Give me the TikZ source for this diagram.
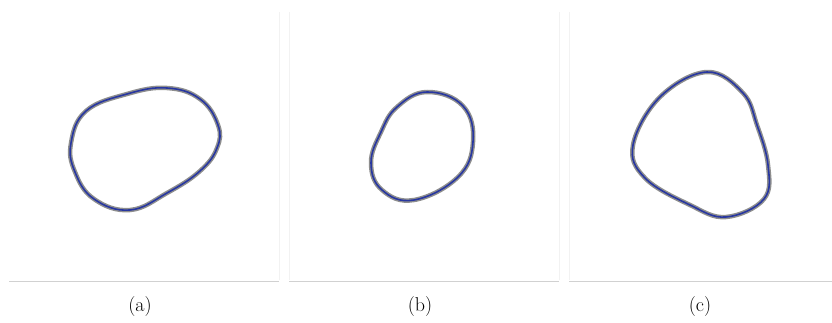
\documentclass[tikz,border=0pt]{standalone}
\usetikzlibrary{calc}
\definecolor{blobblue}{RGB}{40,55,160}
\definecolor{halo}{RGB}{50,50,50}
\tikzset{
  halo/.style={draw=halo, line width=4.5pt, opacity=0.55, line join=round},
  blob/.style={draw=blobblue, line width=1.6pt, line join=round},
  baseline/.style={draw=black!18, line width=0.8pt},
  frame/.style={draw=black!5, line width=0.6pt},
  caption/.style={font=\fontsize{20}{24}\selectfont, inner sep=0pt}
}
\begin{document}
\begin{tikzpicture}[x=1pt,y=-1pt]
\useasboundingbox (0,0) rectangle (832,323);
% faint panel frames
\draw[frame] (279,12) -- (279,280);
\draw[frame] (289,12) -- (289,280);
\draw[frame] (559,12) -- (559,280);
\draw[frame] (569,12) -- (569,280);
% baselines
\coordinate (la1) at (9,281); \coordinate (la2) at (279,281);
\coordinate (lb1) at (289,281); \coordinate (lb2) at (559,281);
\coordinate (lc1) at (569,281); \coordinate (lc2) at (832,281);
\draw[baseline] (la1) -- (la2);
\draw[baseline] (lb1) -- (lb2);
\draw[baseline] (lc1) -- (lc2);
\foreach \s in {halo,blob}{
% blob a
\draw[\s] plot[smooth cycle, tension=0.7] coordinates {
 (71,143) (86,111) (127,94) (167,88) (200,99) (218,125) (217,148)
 (200,171) (167,193) (130,210) (94,199) (75,172)};
% blob b
\draw[\s] plot[smooth cycle, tension=0.7] coordinates {
 (427,92) (463,106) (473,142) (458,177) (414,200) (382,190)
 (371,163) (381,132) (397,107)};
% blob c
\draw[\s] plot[smooth cycle, tension=0.65] coordinates {
 (707,72) (743,93) (757,125) (768,165) (764,199) (726,217)
 (690,205) (645,178) (633,145) (660,97)};
}
% captions
\node[caption] (ca) at (140,307) {(a)};
\node[caption] (cb) at (420,307) {(b)};
\node[caption] (cc) at (700,307) {(c)};
\end{tikzpicture}
\end{document}
